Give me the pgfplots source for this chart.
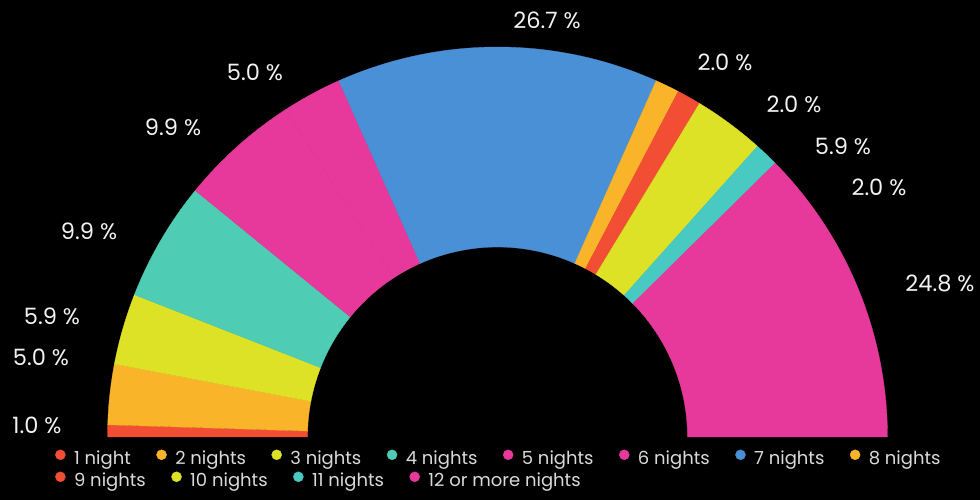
\documentclass[border=0pt]{standalone}
\usepackage{fontspec}
\setmainfont{Poppins}
\usepackage{pgfplots}
\pgfplotsset{compat=1.18}
\definecolor{cRed}{HTML}{F24E33}
\definecolor{cOrange}{HTML}{F9B42A}
\definecolor{cYellow}{HTML}{DDE226}
\definecolor{cTeal}{HTML}{4ECDB4}
\definecolor{cCyan}{HTML}{48C9C2}
\definecolor{cPink}{HTML}{E6399B}
\definecolor{cBlue}{HTML}{4A90D6}
\definecolor{legtext}{HTML}{DADADA}
\definecolor{lbltext}{HTML}{F2F2F2}
% one unit of value = 180/100.1 degrees
\def\k{1.7982018}
\def\Ro{390}
\def\Ri{190}
% #1 cumulative start value, #2 value, #3 colour
\newcommand\slice[3]{%
  \filldraw[fill=#3, draw=#3, line width=0.3pt] (axis cs:{\Ro*cos(180-(#1)*\k)},{\Ro*sin(180-(#1)*\k)})
    arc[start angle={180-(#1)*\k}, end angle={180-(#1+#2)*\k}, radius=\Ro pt]
    -- (axis cs:{\Ri*cos(180-(#1+#2)*\k)},{\Ri*sin(180-(#1+#2)*\k)})
    arc[start angle={180-(#1+#2)*\k}, end angle={180-(#1)*\k}, radius=\Ri pt]
    -- cycle;}
\newcommand\lbl{\fontsize{22.5}{26}\selectfont}
\newcommand\legimg[1]{\addlegendimage{legend image code/.code={\fill[#1] (5pt,4pt) circle (5pt);}}}
\pgfplotsset{
  base/.style={at={(0,0)}, anchor=south west, x=1pt, y=1pt,
    xmin=-497.5, xmax=482.5, ymin=-63, ymax=437, hide axis, clip=false},
  myleg/.style={legend style={draw=none, fill=none, inner sep=0pt, anchor=west,
    text=legtext, font=\fontsize{18}{21}\selectfont,
    nodes={inner sep=0pt},
    /tikz/every odd column/.append style={column sep=8.5pt},
    /tikz/every even column/.append style={column sep=25.5pt}}},
}
\begin{document}
\begin{tikzpicture}
\fill[black] (0,0) rectangle (980pt,500pt);
\useasboundingbox (0,0) rectangle (980pt,500pt);
\begin{axis}[base, myleg, legend columns=8,
  legend style={at={(55/980,42/500)}}]
\slice{0}{1.0}{cRed}
\slice{1.0}{5.0}{cOrange}
\slice{6.0}{5.9}{cYellow}
\slice{11.9}{9.9}{cTeal}
\slice{21.8}{9.9}{cPink}
\slice{31.7}{5.0}{cPink}
\slice{36.7}{26.7}{cBlue}
\slice{63.4}{2.0}{cOrange}
\slice{65.4}{2.0}{cRed}
\slice{67.4}{5.9}{cYellow}
\slice{73.3}{2.0}{cCyan}
\slice{75.3}{24.8}{cPink}
\begin{scope}[every node/.style={text=lbltext, font=\lbl, anchor=center, inner sep=0pt}]
\node at (axis cs:49.5,417) {26.7 \%};
\node at (axis cs:227.5,375) {2.0 \%};
\node at (axis cs:296.5,333) {2.0 \%};
\node at (axis cs:345.5,291) {5.9 \%};
\node at (axis cs:381.5,250) {2.0 \%};
\node at (axis cs:442.5,154) {24.8 \%};
\node at (axis cs:-242.5,365) {5.0 \%};
\node at (axis cs:-324.5,310) {9.9 \%};
\node at (axis cs:-408.5,206) {9.9 \%};
\node at (axis cs:-445.5,121) {5.9 \%};
\node at (axis cs:-456.5,80) {5.0 \%};
\node at (axis cs:-460.5,12) {1.0 \%};
\end{scope}
\legimg{cRed}\addlegendentry{1 night}
\legimg{cOrange}\addlegendentry{2 nights}
\legimg{cYellow}\addlegendentry{3 nights}
\legimg{cTeal}\addlegendentry{4 nights}
\legimg{cPink}\addlegendentry{5 nights}
\legimg{cPink}\addlegendentry{6 nights}
\legimg{cBlue}\addlegendentry{7 nights}
\legimg{cOrange}\addlegendentry{8 nights}
\end{axis}
\begin{axis}[base, myleg, legend columns=4,
  legend style={at={(55/980,20/500)}}]
\legimg{cRed}\addlegendentry{9 nights}
\legimg{cYellow}\addlegendentry{10 nights}
\legimg{cCyan}\addlegendentry{11 nights}
\legimg{cPink}\addlegendentry{12 or more nights}
\end{axis}
\end{tikzpicture}
\end{document}
